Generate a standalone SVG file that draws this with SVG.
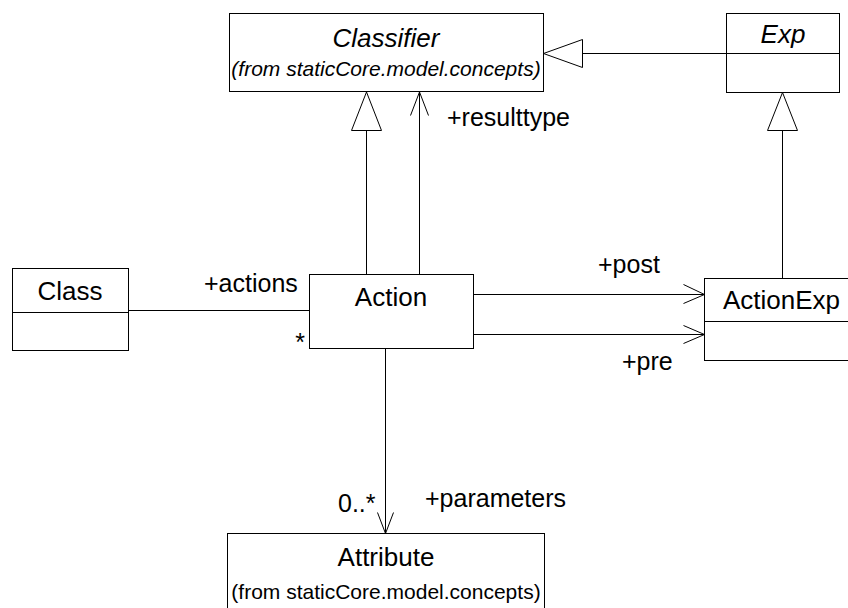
<svg xmlns="http://www.w3.org/2000/svg" width="848" height="608" viewBox="0 0 848 608">
<style>
.box{fill:#fff;stroke:#000;stroke-width:1}
.ln{fill:none;stroke:#000;stroke-width:1}
.tri{fill:#fff;stroke:#000;stroke-width:1}
text{font-family:"Liberation Sans",Arial,sans-serif;fill:#000}
.name{font-size:26px;text-anchor:middle}
.sub{font-size:21px;text-anchor:middle}
.lbl{font-size:25px}
.it{font-style:italic}
</style>
<rect width="848" height="608" fill="#fff"/>
<g id="Classifier">
<rect class="box" x="229.5" y="13.5" width="314" height="78"/>
<text class="name it" x="386" y="47">Classifier</text>
<text class="sub it" x="386" y="76">(from staticCore.model.concepts)</text>
</g>
<g id="Exp">
<rect class="box" x="726.5" y="13.5" width="113" height="79"/>
<line class="ln" x1="726.5" y1="53.5" x2="839.5" y2="53.5"/>
<text class="name it" x="783" y="43">Exp</text>
</g>
<g id="Class">
<rect class="box" x="12.5" y="268.5" width="116" height="82"/>
<line class="ln" x1="12.5" y1="312.5" x2="128.5" y2="312.5"/>
<text class="name" x="70" y="300">Class</text>
</g>
<g id="Action">
<rect class="box" x="309.5" y="274.5" width="164" height="74"/>
<text class="name" x="391" y="306">Action</text>
</g>
<g id="ActionExp">
<rect class="box" x="704.5" y="278.5" width="160" height="82"/>
<line class="ln" x1="704.5" y1="321.5" x2="864.5" y2="321.5"/>
<text class="name" x="723" y="309" style="text-anchor:start">ActionExp</text>
</g>
<g id="Attribute">
<rect class="box" x="227.5" y="533.5" width="317" height="90"/>
<text class="name" x="386" y="566">Attribute</text>
<text class="sub" x="386" y="599">(from staticCore.model.concepts)</text>
</g>
<g id="connectors">
<line class="ln" x1="726.5" y1="53.5" x2="582.5" y2="53.5"/>
<polygon class="tri" points="543.5,53.5 582.5,39.5 582.5,67.5"/>
<line class="ln" x1="782.5" y1="278.5" x2="782.5" y2="130.5"/>
<polygon class="tri" points="782.5,92.5 767.5,130.5 797.5,130.5"/>
<line class="ln" x1="366.5" y1="274.5" x2="366.5" y2="130.5"/>
<polygon class="tri" points="366.5,92 351.5,130.5 381.5,130.5"/>
<line class="ln" x1="419.5" y1="274.5" x2="419.5" y2="92"/>
<polyline class="ln" points="410.5,115.5 419.5,92 428.5,115.5"/>
<line class="ln" x1="128.5" y1="310.5" x2="309.5" y2="310.5"/>
<line class="ln" x1="473.5" y1="294.5" x2="704.5" y2="294.5"/>
<polyline class="ln" points="683.5,284.5 704.5,294.5 683.5,303.5"/>
<line class="ln" x1="473.5" y1="334.5" x2="704.5" y2="334.5"/>
<polyline class="ln" points="683.5,325.5 704.5,334.5 683.5,343.5"/>
<line class="ln" x1="385.5" y1="348.5" x2="385.5" y2="533.5"/>
<polyline class="ln" points="377.5,512.5 385.5,533.5 393.5,512.5"/>
<text class="lbl" x="447" y="126">+resulttype</text>
<text class="lbl" x="204" y="292">+actions</text>
<text class="lbl" x="305" y="351" style="text-anchor:end">*</text>
<text class="lbl" x="598" y="273">+post</text>
<text class="lbl" x="622" y="370">+pre</text>
<text class="lbl" x="338" y="512">0..*</text>
<text class="lbl" x="425" y="507">+parameters</text>
</g>
</svg>
